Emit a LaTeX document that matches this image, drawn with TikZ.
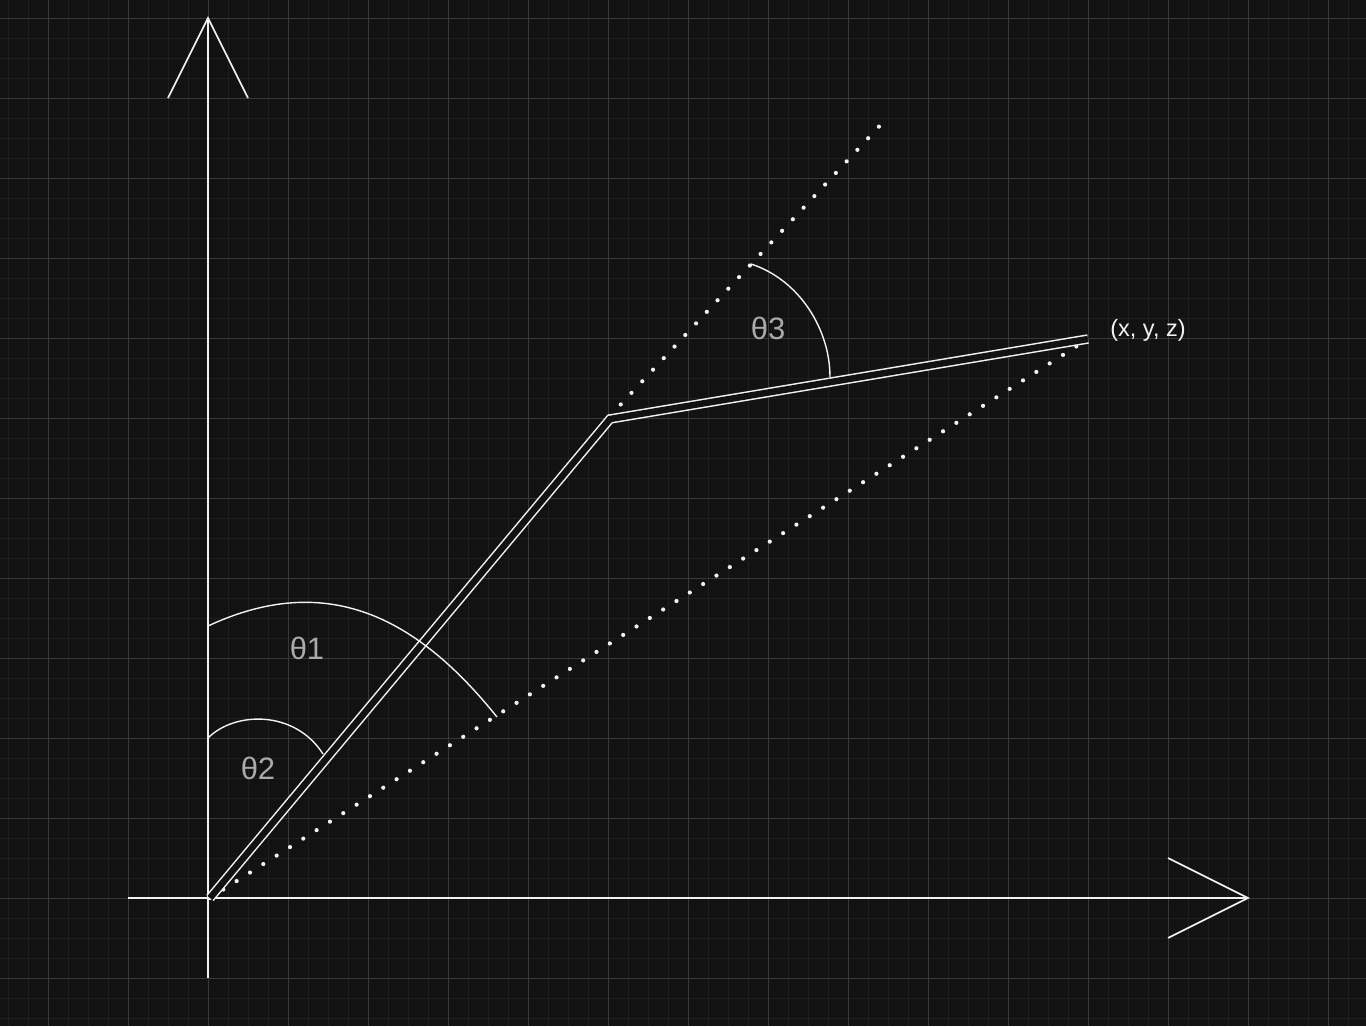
\documentclass[tikz,border=0pt]{standalone}
\usepackage{fontspec}
\setmainfont{Liberation Sans}
\definecolor{bg}{HTML}{121212}
\definecolor{minorg}{HTML}{1F1F1F}
\definecolor{majorg}{HTML}{383838}
\definecolor{lbl}{HTML}{AAAAAA}
\definecolor{ink}{HTML}{F2F2F2}
\begin{document}
\begin{tikzpicture}[x=1pt,y=-1pt,
  minorline/.style={minorg,line width=1pt},
  majorline/.style={majorg,line width=1pt},
  axis/.style={ink,line width=1.6pt},
  armline/.style={ink,line width=1.5pt,double=bg,double distance=6.5pt,line join=miter},
  dotline/.style={ink,line width=4.2pt,line cap=round,dash pattern=on 0pt off 15.8pt},
  anglearc/.style={ink,line width=1.4pt},
  anglelabel/.style={lbl,font=\fontsize{31}{33}\selectfont,inner sep=0pt},
  ptlabel/.style={ink,font=\fontsize{23.5}{25}\selectfont,inner sep=0pt}]
\fill[bg] (0,0) rectangle (1366,1026);
\useasboundingbox (0,0) rectangle (1366,1026);
% grid
\foreach \x in {8,28,...,1366} \draw[minorline] (\x,0) -- (\x,1026);
\foreach \y in {-2,18,...,1026} \draw[minorline] (0,\y) -- (1366,\y);
\foreach \x in {48,128,...,1366} \draw[majorline] (\x,0) -- (\x,1026);
\foreach \y in {18,98,...,1026} \draw[majorline] (0,\y) -- (1366,\y);
% coordinates
\coordinate (ytop) at (208,18);
\coordinate (ybot) at (208,978);
\coordinate (yl) at (168,98);
\coordinate (yr) at (248,98);
\coordinate (xleft) at (128,898);
\coordinate (xright) at (1248,898);
\coordinate (xu) at (1168,858);
\coordinate (xd) at (1168,938);
\coordinate (O) at (210,898);
\coordinate (J) at (610,419);
\coordinate (E) at (1088,339);
\coordinate (Js) at (610,416);
\coordinate (Jx) at (886,119);
% axes
\draw[axis] (ybot) -- (ytop);
\draw[axis] (yl) -- (ytop) -- (yr);
\draw[axis] (xleft) -- (xright);
\draw[axis] (xu) -- (xright) -- (xd);
% dotted helper lines
\draw[dotline] (O) -- (E);
\draw[dotline] (Js) -- (Jx);
% arm
\draw[armline] (O) -- (J) -- (E);
% angle arcs
\coordinate (a1s) at (208,626);
\coordinate (a1e) at (497,717);
\draw[anglearc] (a1s) .. controls (326,571) and (416,616) .. (a1e);
\coordinate (a2s) at (208,738);
\coordinate (a2e) at (323,754);
\draw[anglearc] (a2s) .. controls (235,711) and (295,710) .. (a2e);
\coordinate (a3s) at (751,264);
\coordinate (a3e) at (830,377);
\draw[anglearc] (a3s) .. controls (800,280) and (830,330) .. (a3e);
% labels
\node[anglelabel] (t1) at (307,648) {θ1};
\node[anglelabel] (t2) at (258,768) {θ2};
\node[anglelabel] (t3) at (768,328) {θ3};
\node[ptlabel] (pt) at (1148,330) {(x, y, z)};
\end{tikzpicture}
\end{document}
